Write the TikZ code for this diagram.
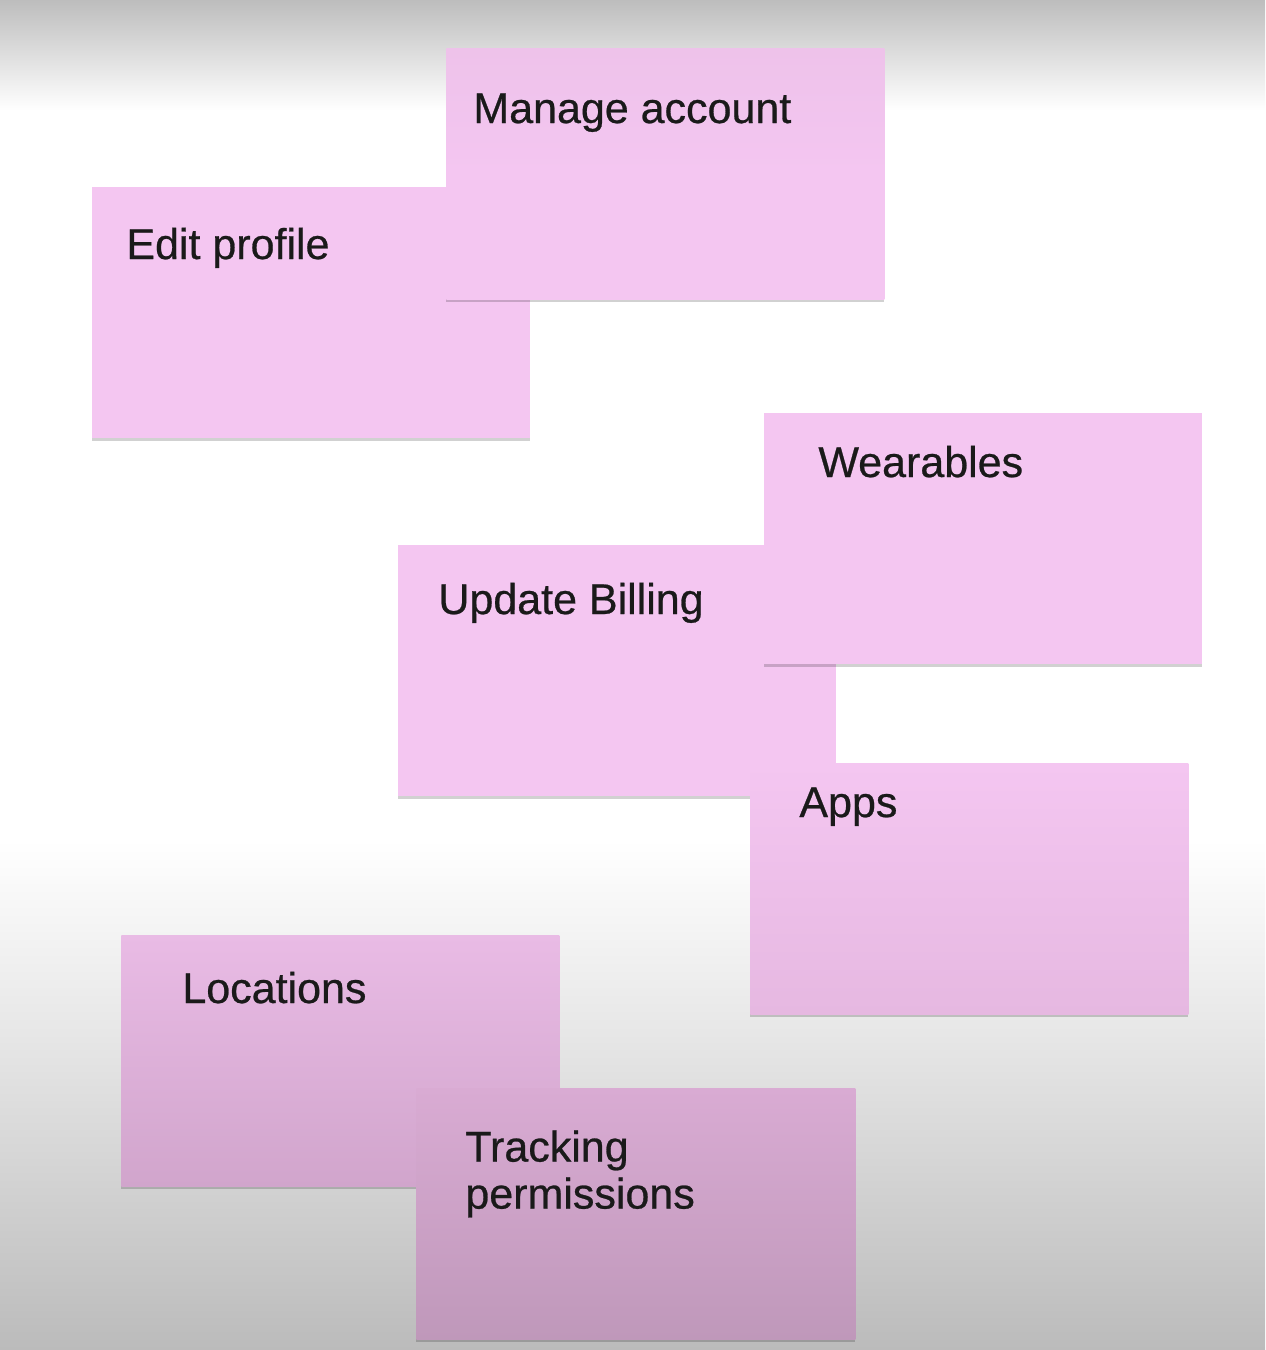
\documentclass[tikz,border=0pt]{standalone}
\usepackage{fontspec}
\setmainfont{Liberation Sans}[FakeBold=0.6]
\newfontfamily\notefont{Liberation Sans}[FakeBold=0.6]
\usetikzlibrary{shadows}
\definecolor{pinkA}{HTML}{F4C6F1}
\definecolor{pinkTop}{HTML}{EEC2EA}
\definecolor{pinkB}{HTML}{E6B8E1}
\definecolor{pinkC}{HTML}{E9BBE5}
\definecolor{pinkD}{HTML}{D1A5CC}
\definecolor{pinkE}{HTML}{D9ABD3}
\definecolor{pinkF}{HTML}{BF98BA}
\definecolor{ink}{HTML}{1A1A1A}
\definecolor{bgTop}{HTML}{BDBDBD}
\definecolor{bgMid}{HTML}{E6E6E6}
\definecolor{bgBot}{HTML}{BBBBBB}
\tikzset{
  note/.style={rectangle, inner sep=0pt, anchor=north west,
    minimum width=219pt, minimum height=125.5pt,
    drop shadow={shadow xshift=0pt, shadow yshift=-1.5pt, opacity=0.18, fill=black}},
  label/.style={anchor=base west, inner sep=0pt, text=ink, font=\notefont\fontsize{21.5pt}{23.5pt}\selectfont, align=left}
}
\begin{document}
\begin{tikzpicture}[x=0.5pt, y=-0.5pt]
\useasboundingbox (0,0) rectangle (1265,1350);
% background
\fill[white] (0,0) rectangle (1265,1350);
\shade[top color=bgTop, bottom color=white] (0,0) rectangle (1265,110);
\shade[top color=white, bottom color=bgMid] (0,840) rectangle (1265,1040);
\shade[top color=bgMid, bottom color=bgBot] (0,1039) rectangle (1265,1350);
% Edit profile
\node[note, fill=pinkA] (edit) at (92,187) {};
\node[label] (editT) at (126,259) {Edit profile};
% Manage account
\node[note, top color=pinkTop, bottom color=pinkA, middle color=pinkA] (manage) at (446,48) {};
\node[label] (manageT) at (473,123) {Manage account};
% Update Billing
\node[note, fill=pinkA] (billing) at (398,545) {};
\node[label] (billingT) at (438,614) {Update Billing};
% Wearables
\node[note, fill=pinkA] (wear) at (764,413) {};
\node[label] (wearT) at (818,477) {Wearables};
% Apps
\node[note, top color=pinkA, bottom color=pinkB] (apps) at (750,763) {};
\node[label] (appsT) at (799,817) {Apps};
% Locations
\node[note, top color=pinkC, bottom color=pinkD] (loc) at (121,935) {};
\node[label] (locT) at (182,1003) {Locations};
% Tracking permissions
\node[note, top color=pinkE, bottom color=pinkF, minimum width=219.5pt] (track) at (416,1088) {};
\node[label, anchor=north west] (trackT) at (465,1130) {Tracking\\permissions};
\end{tikzpicture}
\end{document}
